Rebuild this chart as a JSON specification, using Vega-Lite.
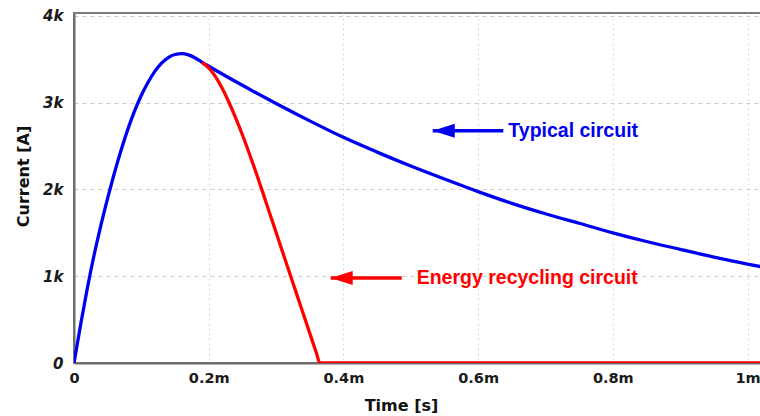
{
  "$schema": "https://vega.github.io/schema/vega-lite/v6.json",
  "autosize": {"type": "none"},
  "padding": {"left": 74, "top": 13, "right": 0, "bottom": 52},
  "width": 687,
  "height": 350,
  "background": "white",
  "config": {
    "view": {"stroke": "#7a7a7a", "strokeWidth": 2},
    "axis": {
      "labelFont": "DejaVu Sans",
      "labelFontWeight": "bold",
      "labelColor": "#1a1a1a",
      "titleFont": "DejaVu Sans",
      "titleFontWeight": "bold",
      "titleFontSize": 16,
      "titleColor": "#111111",
      "ticks": false,
      "domainColor": "#6a6a6a",
      "domainWidth": 2,
      "gridColor": "#cccccc",
      "gridDash": [4, 4],
      "gridWidth": 1
    }
  },
  "datasets": {
    "curves": [
      {"series": "Typical circuit", "t_ms": 0, "current": 0},
      {"series": "Typical circuit", "t_ms": 0.01, "current": 450},
      {"series": "Typical circuit", "t_ms": 0.02, "current": 870},
      {"series": "Typical circuit", "t_ms": 0.03, "current": 1250},
      {"series": "Typical circuit", "t_ms": 0.04, "current": 1590},
      {"series": "Typical circuit", "t_ms": 0.05, "current": 1900},
      {"series": "Typical circuit", "t_ms": 0.06, "current": 2190},
      {"series": "Typical circuit", "t_ms": 0.07, "current": 2455},
      {"series": "Typical circuit", "t_ms": 0.08, "current": 2695},
      {"series": "Typical circuit", "t_ms": 0.09, "current": 2905},
      {"series": "Typical circuit", "t_ms": 0.1, "current": 3085},
      {"series": "Typical circuit", "t_ms": 0.11, "current": 3235},
      {"series": "Typical circuit", "t_ms": 0.12, "current": 3360},
      {"series": "Typical circuit", "t_ms": 0.13, "current": 3455},
      {"series": "Typical circuit", "t_ms": 0.14, "current": 3520},
      {"series": "Typical circuit", "t_ms": 0.15, "current": 3555},
      {"series": "Typical circuit", "t_ms": 0.16, "current": 3565},
      {"series": "Typical circuit", "t_ms": 0.17, "current": 3550},
      {"series": "Typical circuit", "t_ms": 0.18, "current": 3515},
      {"series": "Typical circuit", "t_ms": 0.19, "current": 3465},
      {"series": "Typical circuit", "t_ms": 0.2, "current": 3420},
      {"series": "Typical circuit", "t_ms": 0.25, "current": 3200},
      {"series": "Typical circuit", "t_ms": 0.3, "current": 2990},
      {"series": "Typical circuit", "t_ms": 0.35, "current": 2790},
      {"series": "Typical circuit", "t_ms": 0.4, "current": 2600},
      {"series": "Typical circuit", "t_ms": 0.45, "current": 2430},
      {"series": "Typical circuit", "t_ms": 0.5, "current": 2270},
      {"series": "Typical circuit", "t_ms": 0.55, "current": 2120},
      {"series": "Typical circuit", "t_ms": 0.6, "current": 1975},
      {"series": "Typical circuit", "t_ms": 0.65, "current": 1840},
      {"series": "Typical circuit", "t_ms": 0.7, "current": 1720},
      {"series": "Typical circuit", "t_ms": 0.75, "current": 1610},
      {"series": "Typical circuit", "t_ms": 0.8, "current": 1500},
      {"series": "Typical circuit", "t_ms": 0.85, "current": 1400},
      {"series": "Typical circuit", "t_ms": 0.9, "current": 1310},
      {"series": "Typical circuit", "t_ms": 0.95, "current": 1220},
      {"series": "Typical circuit", "t_ms": 1.0, "current": 1140},
      {"series": "Typical circuit", "t_ms": 1.02, "current": 1110},
      {"series": "Energy recycling circuit", "t_ms": 0.19, "current": 3465},
      {"series": "Energy recycling circuit", "t_ms": 0.2, "current": 3400},
      {"series": "Energy recycling circuit", "t_ms": 0.21, "current": 3300},
      {"series": "Energy recycling circuit", "t_ms": 0.22, "current": 3165},
      {"series": "Energy recycling circuit", "t_ms": 0.23, "current": 3005},
      {"series": "Energy recycling circuit", "t_ms": 0.24, "current": 2825},
      {"series": "Energy recycling circuit", "t_ms": 0.25, "current": 2630},
      {"series": "Energy recycling circuit", "t_ms": 0.26, "current": 2420},
      {"series": "Energy recycling circuit", "t_ms": 0.27, "current": 2200},
      {"series": "Energy recycling circuit", "t_ms": 0.28, "current": 1972},
      {"series": "Energy recycling circuit", "t_ms": 0.29, "current": 1738},
      {"series": "Energy recycling circuit", "t_ms": 0.3, "current": 1505},
      {"series": "Energy recycling circuit", "t_ms": 0.31, "current": 1272},
      {"series": "Energy recycling circuit", "t_ms": 0.32, "current": 1040},
      {"series": "Energy recycling circuit", "t_ms": 0.33, "current": 808},
      {"series": "Energy recycling circuit", "t_ms": 0.34, "current": 576},
      {"series": "Energy recycling circuit", "t_ms": 0.35, "current": 344},
      {"series": "Energy recycling circuit", "t_ms": 0.36, "current": 112},
      {"series": "Energy recycling circuit", "t_ms": 0.365, "current": 0},
      {"series": "Energy recycling circuit", "t_ms": 0.5, "current": 0},
      {"series": "Energy recycling circuit", "t_ms": 0.75, "current": 0},
      {"series": "Energy recycling circuit", "t_ms": 1.02, "current": 0}
    ],
    "notes": [
      {"series": "Typical circuit", "label": "Typical circuit", "t_tip": 0.5326, "t_end": 0.6374, "t_text": 0.6449, "current": 2676},
      {"series": "Energy recycling circuit", "label": "Energy recycling circuit", "t_tip": 0.3811, "t_end": 0.4866, "t_text": 0.5088, "current": 980}
    ]
  },
  "layer": [
    {
      "data": {"name": "curves"},
      "mark": {"type": "line", "strokeWidth": 3.3, "interpolate": "monotone", "clip": true},
      "encoding": {
        "x": {
          "field": "t_ms", "type": "quantitative", "title": "Time [s]",
          "scale": {"domain": [0, 1.02], "nice": false, "zero": false},
          "axis": {
            "values": [0, 0.2, 0.4, 0.6, 0.8, 1.0],
            "labelExpr": "datum.value === 0 ? '0' : format(datum.value, '.1~f') + 'm'",
            "labelFontSize": 14.5,
            "labelPadding": 8,
            "labelOverlap": false,
            "labelFlush": false,
            "gridColor": "#dcd8c8",
            "gridDash": [2, 3],
            "titleX": 327,
            "titleY": 47,
            "titleAlign": "center",
            "titleAnchor": null,
            "titleBaseline": "alphabetic"
          }
        },
        "y": {
          "field": "current", "type": "quantitative", "title": "Current [A]",
          "scale": {"domain": [0, 4033], "nice": false},
          "axis": {
            "values": [0, 1000, 2000, 3000, 4000],
            "labelExpr": "datum.value === 0 ? '0' : (datum.value / 1000) + 'k'",
            "labelFontSize": 15,
            "labelFontStyle": "italic",
            "labelPadding": 11,
            "labelOverlap": false,
            "labelFlush": false,
            "titleAngle": 270,
            "titleX": -51,
            "titleY": 163,
            "titleAlign": "center",
            "titleAnchor": null,
            "titleBaseline": "middle"
          }
        },
        "color": {
          "field": "series", "type": "nominal", "legend": null,
          "scale": {"domain": ["Energy recycling circuit", "Typical circuit"], "range": ["#ff0000", "#0000f0"]}
        }
      }
    },
    {
      "data": {"name": "notes"},
      "mark": {"type": "rule", "strokeWidth": 3.5},
      "encoding": {
        "x": {"field": "t_tip", "type": "quantitative", "title": "Time [s]"},
        "x2": {"field": "t_end"},
        "y": {"field": "current", "type": "quantitative", "title": "Current [A]"},
        "color": {"field": "series", "type": "nominal", "legend": null}
      }
    },
    {
      "data": {"name": "notes"},
      "mark": {"type": "point", "shape": "M0,0L2,-0.64L2,0.64Z", "size": 484, "filled": true, "opacity": 1},
      "encoding": {
        "x": {"field": "t_tip", "type": "quantitative", "title": "Time [s]"},
        "y": {"field": "current", "type": "quantitative", "title": "Current [A]"},
        "color": {"field": "series", "type": "nominal", "legend": null}
      }
    },
    {
      "data": {"name": "notes"},
      "mark": {"type": "text", "align": "left", "baseline": "middle", "font": "Liberation Sans", "fontWeight": "bold", "fontSize": 19.5},
      "encoding": {
        "x": {"field": "t_text", "type": "quantitative", "title": "Time [s]"},
        "y": {"field": "current", "type": "quantitative", "title": "Current [A]"},
        "text": {"field": "label"},
        "color": {"field": "series", "type": "nominal", "legend": null}
      }
    }
  ]
}
